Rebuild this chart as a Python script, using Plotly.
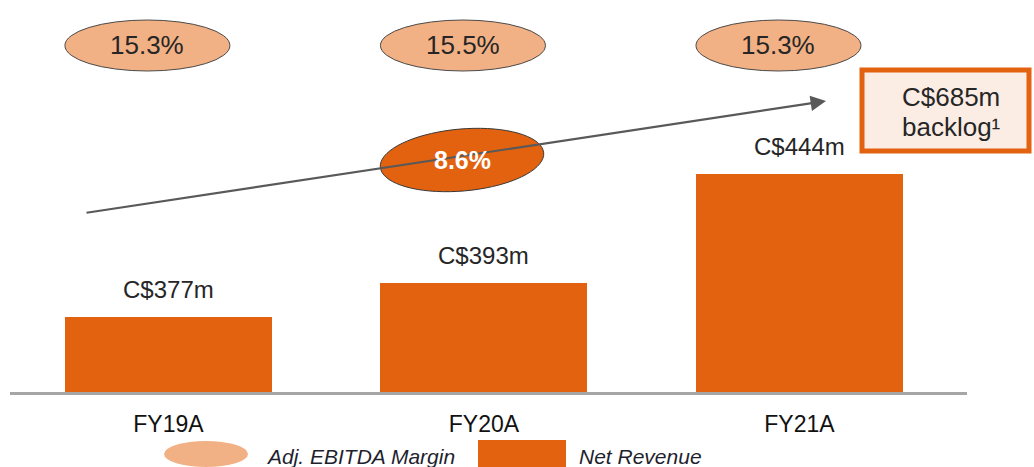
import numpy as np
import plotly.graph_objects as go

# ---- data ----
categories = ["FY19A", "FY20A", "FY21A"]
net_revenue = [377, 393, 444]
revenue_labels = ["C$377m", "C$393m", "C$444m"]
ebitda_margin = ["15.3%", "15.5%", "15.3%"]
cagr_label = "8.6%"
backlog_lines = ["C$685m", "backlog¹"]
legend_labels = ["Adj. EBITDA Margin", "Net Revenue"]

# ---- styling ----
W, H = 1034, 467
ML, MR, MT, MB = 10, 67, 0, 75
PW, PH = W - ML - MR, H - MT - MB
ORANGE = "#E3620F"
LIGHT = "#F2B184"
DARK = "#262626"
FONT = "Liberation Sans, Arial, sans-serif"
BAR_W = 0.656


def px_x(px):
    return (px - ML) / PW


def px_y(py):
    return (MT + PH - py) / PH


def label(x, y, text, size, color=DARK, xref="paper", yref="paper", **kw):
    d = dict(x=x, y=y, xref=xref, yref=yref, text=text, showarrow=False,
             xanchor="center", yanchor="middle",
             font=dict(family=FONT, size=size, color=color))
    d.update(kw)
    return d


fig = go.Figure()
fig.add_trace(go.Bar(
    x=categories, y=net_revenue, width=BAR_W,
    marker=dict(color=ORANGE, line=dict(width=0)),
    showlegend=False, hoverinfo="x+y",
))

shapes = []
annotations = []

# value labels above bars
for c, v, t in zip(categories, net_revenue, revenue_labels):
    annotations.append(label(c, v, t, 24, xref="x", yref="y", yshift=28))

# EBITDA margin ellipses (left aligned with bars)
for i, m in enumerate(ebitda_margin):
    x0 = i - BAR_W / 2
    x1 = x0 + 0.523
    shapes.append(dict(type="circle", xref="x", yref="paper", x0=x0, x1=x1,
                       y0=px_y(71), y1=px_y(20), fillcolor=LIGHT,
                       line=dict(color="#4a4a4a", width=1), layer="above"))
    annotations.append(label((x0 + x1) / 2, px_y(45), m, 26, xref="x"))

# growth arrow
annotations.append(dict(x=px_x(826), y=px_y(101), xref="paper", yref="paper", text="",
                        showarrow=True, ax=-(826 - 85), ay=(213 - 101),
                        arrowhead=2, arrowsize=1.4, arrowwidth=2.2, arrowcolor="#595959"))

# tilted CAGR ellipse as path
cx, cy, rx, ry, ang = 462, 160, 82, 31, np.deg2rad(-5)
t = np.linspace(0, 2 * np.pi, 73)
ex = cx + rx * np.cos(t) * np.cos(ang) - ry * np.sin(t) * np.sin(ang)
ey = cy + rx * np.cos(t) * np.sin(ang) + ry * np.sin(t) * np.cos(ang)
path = "M " + " L ".join(f"{px_x(a):.5f},{px_y(b):.5f}" for a, b in zip(ex, ey)) + " Z"
shapes.append(dict(type="path", xref="paper", yref="paper", path=path, fillcolor=ORANGE,
                   line=dict(color="#3a3a3a", width=1), layer="above"))
annotations.append(label(px_x(cx), px_y(cy), f"<b>{cagr_label}</b>", 25, color="white"))

# backlog box
shapes.append(dict(type="rect", xref="paper", yref="paper", x0=px_x(862), x1=px_x(1029),
                   y0=px_y(151), y1=px_y(70), fillcolor="#FBEDE4",
                   line=dict(color=ORANGE, width=5), layer="above"))
annotations.append(label(px_x(951), px_y(97), backlog_lines[0], 26))
annotations.append(label(px_x(951), px_y(127), backlog_lines[1], 26))

# manual legend
shapes.append(dict(type="circle", xref="paper", yref="paper", x0=px_x(164), x1=px_x(248),
                   y0=px_y(467), y1=px_y(441), fillcolor=LIGHT, line=dict(width=0)))
annotations.append(label(px_x(264), px_y(456), f"<i>{legend_labels[0]}</i>", 21,
                         color="#1f1f2e", xanchor="left"))
shapes.append(dict(type="rect", xref="paper", yref="paper", x0=px_x(478), x1=px_x(566),
                   y0=px_y(467), y1=px_y(440), fillcolor=ORANGE, line=dict(width=0)))
annotations.append(label(px_x(577), px_y(456), f"<i>{legend_labels[1]}</i>", 21,
                         color="#1f1f2e", xanchor="left"))

fig.update_layout(
    width=W, height=H,
    margin=dict(l=ML, r=MR, t=MT, b=MB),
    paper_bgcolor="white", plot_bgcolor="white",
    shapes=shapes, annotations=annotations,
    xaxis=dict(type="category", range=[-0.502, 2.531], showgrid=False, zeroline=False,
               showline=True, linecolor="#A6A6A6", linewidth=3,
               ticks="outside", ticklen=9, tickcolor="rgba(0,0,0,0)",
               tickfont=dict(family=FONT, size=23, color="#111111")),
    yaxis=dict(range=[342, 525.7], visible=False, showgrid=False, zeroline=False),
    bargap=0,
)

fig.write_html("out.html", config={"displayModeBar": False})

# remove default page margin so the figure sits at the window origin
with open("out.html", "r", encoding="utf-8") as f:
    html = f.read()
html = html.replace("<head>", "<head><style>html,body{margin:0;padding:0;}</style>", 1)
with open("out.html", "w", encoding="utf-8") as f:
    f.write(html)
